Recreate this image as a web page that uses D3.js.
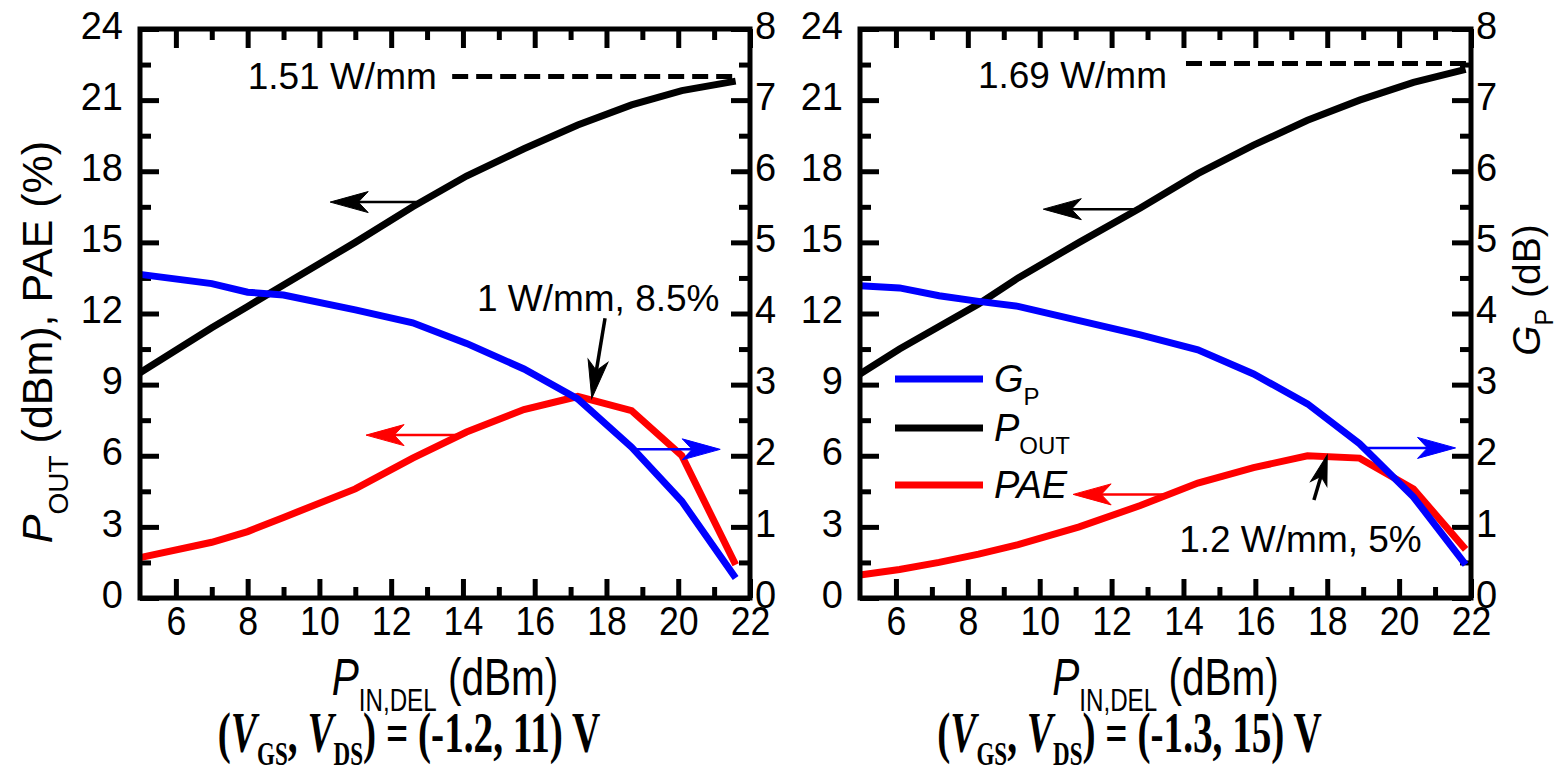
<!DOCTYPE html>
<html>
<head>
<meta charset="utf-8">
<script src="https://cdn.jsdelivr.net/npm/d3@7"></script>
<style>
  body { margin: 0; background: #fff; }
  svg { display: block; }
</style>
</head>
<body>
<svg id="chart" width="1564" height="768" font-family='"Liberation Sans", Arial, Helvetica, sans-serif'></svg>
<script>
// ---- measured data: bias point (-1.2, 11) V ----
const pinA  = [5, 7, 8, 9, 11, 12.6, 14.1, 15.7, 17.2, 18.7, 20.1, 21.6];
const poutA = [9.5, 11.4, 12.3, 13.2, 15.0, 16.5, 17.8, 18.95, 19.95, 20.8, 21.4, 21.8];
const paeA  = [1.7, 2.35, 2.8, 3.4, 4.6, 5.9, 7.0, 7.95, 8.5, 7.9, 6.0, 1.4];
const gpA   = [4.55, 4.42, 4.3, 4.26, 4.05, 3.87, 3.58, 3.22, 2.8, 2.12, 1.36, 0.28];

// ---- measured data: bias point (-1.3, 15) V ----
const pinB  = [5, 6.1, 7.2, 8.3, 9.4, 11.1, 12.8, 14.4, 15.95, 17.45, 18.9, 20.4, 21.85];
const poutB = [9.45, 10.5, 11.45, 12.4, 13.5, 15.0, 16.45, 17.9, 19.1, 20.15, 21.0, 21.75, 22.3];
const paeB  = [0.97, 1.2, 1.5, 1.85, 2.25, 3.0, 3.9, 4.85, 5.5, 6.0, 5.9, 4.6, 2.05];
const gpB   = [4.39, 4.36, 4.25, 4.17, 4.1, 3.9, 3.7, 3.49, 3.15, 2.73, 2.17, 1.42, 0.47];

// ---- axes ----
const xDomain     = [5, 22];
const xTicks      = [6, 8, 10, 12, 14, 16, 18, 20, 22];
const xMinor      = [7, 9, 11, 13, 15, 17, 19, 21];
const yLeftTicks  = [0, 3, 6, 9, 12, 15, 18, 21, 24];
const yLeftMinor  = [1.5, 4.5, 7.5, 10.5, 13.5, 16.5, 19.5, 22.5];
const yRightTicks = [0, 1, 2, 3, 4, 5, 6, 7, 8];
const yRightMinor = [0.5, 1.5, 2.5, 3.5, 4.5, 5.5, 6.5, 7.5];

// ---- annotations (data units; axis 'L' = left, 'R' = right) ----
// arrows: [xFrom, yFrom, xTo, yTo, axis, colour, kind]
const arrowsA = [
  [12.7, 16.7, 10.3, 16.7, 'L', '#000', 'axis'],
  [13.83, 6.87, 11.3, 6.87, 'L', '#ff0000', 'axis'],
  [18.75, 2.09, 21.17, 2.09, 'R', '#0000ff', 'axis'],
  [17.96, 11.8, 17.59, 8.42, 'L', '#000', 'call']
];
const arrowsB = [
  [12.6, 16.4, 10.1, 16.4, 'L', '#000', 'axis'],
  [13.65, 4.37, 10.93, 4.37, 'L', '#ff0000', 'axis'],
  [19.02, 2.11, 21.57, 2.11, 'R', '#0000ff', 'axis'],
  [17.63, 4.13, 18.0, 6.03, 'L', '#000', 'call']
];
// saturated-power reference lines: [xFrom, xTo, y]
const satA = [13.7, 21.65, 22.0];
const satB = [14.07, 21.86, 22.55];
// notes: [text, x, y(baseline)]
const notesA = [['1.51 W/mm', 8.0, 21.47], ['1 W/mm, 8.5%', 14.39, 12.12]];
const notesB = [['1.69 W/mm', 8.28, 21.5], ['1.2 W/mm, 5%', 13.88, 1.95]];
const biasA = ['-1.2', '11'];
const biasB = ['-1.3', '15'];

const legendItems = [
  { key: 'gp',   main: 'G',   sub: 'P',   colour: '#0000ff' },
  { key: 'pout', main: 'P',   sub: 'OUT', colour: '#000' },
  { key: 'pae',  main: 'PAE', sub: '',    colour: '#ff0000' }
];

// ---- layout ----
const W = 1564, H = 768;
const TOP = 29, BOTTOM = 598;
const SANS = '"Liberation Sans", Arial, Helvetica, sans-serif';
const SERIF = '"Liberation Serif", "Times New Roman", Times, serif';
const panels = [
  { left: 140, right: 750, pin: pinA, pout: poutA, pae: paeA, gp: gpA,
    arrows: arrowsA, sat: satA, notes: notesA, bias: biasA, legend: false, titleShift: -36 },
  { left: 860, right: 1471, pin: pinB, pout: poutB, pae: paeB, gp: gpB,
    arrows: arrowsB, sat: satB, notes: notesB, bias: biasB, legend: true, titleShift: -36 }
];

const svg = d3.select('#chart');
svg.append('rect').attr('width', W).attr('height', H).attr('fill', '#fff');

function arrowHead(g, x1, y1, x2, y2, colour, L, Wd) {
  const ang = Math.atan2(y2 - y1, x2 - x1) * 180 / Math.PI;
  g.append('path')
    .attr('d', `M0,0 L${-L},${-Wd / 2} L${-L * 0.74},0 L${-L},${Wd / 2} Z`)
    .attr('transform', `translate(${x2},${y2}) rotate(${ang})`)
    .attr('fill', colour)
    .attr('stroke', colour)
    .attr('stroke-width', 1)
    .attr('stroke-linejoin', 'miter');
}

panels.forEach(p => {
  const g = svg.append('g');
  const x  = d3.scaleLinear().domain(xDomain).range([p.left, p.right]);
  const yL = d3.scaleLinear().domain([0, 24]).range([BOTTOM, TOP]);
  const yR = d3.scaleLinear().domain([0, 8]).range([BOTTOM, TOP]);

  // ticks (all pointing inwards)
  const axisDefs = [
    [d3.axisBottom(x).tickValues(xTicks).tickSize(-19).tickPadding(8).tickFormat(d3.format('d')), `translate(0,${BOTTOM})`, 'bottom'],
    [d3.axisBottom(x).tickValues(xMinor).tickSize(-11).tickFormat(''), `translate(0,${BOTTOM})`, null],
    [d3.axisTop(x).tickValues(xTicks).tickSize(-19).tickFormat(''), `translate(0,${TOP})`, null],
    [d3.axisTop(x).tickValues(xMinor).tickSize(-11).tickFormat(''), `translate(0,${TOP})`, null],
    [d3.axisLeft(yL).tickValues(yLeftTicks).tickSize(-19).tickPadding(17).tickFormat(d3.format('d')), `translate(${p.left},0)`, 'side'],
    [d3.axisLeft(yL).tickValues(yLeftMinor).tickSize(-11).tickFormat(''), `translate(${p.left},0)`, null],
    [d3.axisRight(yR).tickValues(yRightTicks).tickSize(-19).tickPadding(5).tickFormat(d3.format('d')), `translate(${p.right},0)`, 'side'],
    [d3.axisRight(yR).tickValues(yRightMinor).tickSize(-11).tickFormat(''), `translate(${p.right},0)`, null]
  ];
  axisDefs.forEach(([ax, tr, lab]) => {
    const a = g.append('g').attr('transform', tr).call(ax);
    a.select('.domain').remove();
    a.attr('font-family', SANS);
    a.selectAll('.tick line').attr('stroke', '#000').attr('stroke-width', 5);
    a.selectAll('.tick text').attr('font-size', 38).attr('fill', '#000');
    if (lab === 'side') a.selectAll('.tick text').attr('dy', '0.24em');
    if (lab === 'bottom') {
      a.selectAll('.tick text').attr('font-size', 41).attr('transform', 'scale(0.87,1)');
    }
  });

  // curves: output power and PAE on the left axis, gain on the right axis
  const idx = d3.range(p.pin.length);
  const line = (arr, ys) => d3.line().x(i => x(p.pin[i])).y(i => ys(arr[i]))(idx);
  g.append('path').attr('d', line(p.pout, yL)).attr('fill', 'none')
    .attr('stroke', '#000').attr('stroke-width', 7).attr('stroke-linejoin', 'miter');
  g.append('path').attr('d', line(p.pae, yL)).attr('fill', 'none')
    .attr('stroke', '#ff0000').attr('stroke-width', 7).attr('stroke-linejoin', 'miter');
  g.append('path').attr('d', line(p.gp, yR)).attr('fill', 'none')
    .attr('stroke', '#0000ff').attr('stroke-width', 7).attr('stroke-linejoin', 'miter');

  // saturated output power reference
  g.append('line')
    .attr('x1', x(p.sat[0])).attr('x2', x(p.sat[1]))
    .attr('y1', yL(p.sat[2])).attr('y2', yL(p.sat[2]))
    .attr('stroke', '#000').attr('stroke-width', 5).attr('stroke-dasharray', '16,8');

  // arrows
  p.arrows.forEach(([xa, ya, xb, yb, axis, colour, kind]) => {
    const ys = axis === 'L' ? yL : yR;
    const X1 = x(xa), Y1 = ys(ya), X2 = x(xb), Y2 = ys(yb);
    const len = Math.hypot(X2 - X1, Y2 - Y1);
    const L = kind === 'call' ? (len > 60 ? 38 : 30) : 38;
    const Wd = kind === 'call' ? (L > 32 ? 20 : 17) : 21;
    const ex = X2 - (X2 - X1) / len * L * 0.7, ey = Y2 - (Y2 - Y1) / len * L * 0.7;
    g.append('line').attr('x1', X1).attr('y1', Y1).attr('x2', ex).attr('y2', ey)
      .attr('stroke', colour).attr('stroke-width', kind === 'call' ? 3.5 : 2.5);
    arrowHead(g, X1, Y1, X2, Y2, colour, L, Wd);
  });

  // notes
  p.notes.forEach(([t, xv, yv]) => {
    g.append('text').attr('x', x(xv)).attr('y', yL(yv))
      .attr('font-family', SANS).attr('font-size', 37).text(t);
  });

  // frame
  g.append('rect')
    .attr('x', p.left).attr('y', TOP)
    .attr('width', p.right - p.left).attr('height', BOTTOM - TOP)
    .attr('fill', 'none').attr('stroke', '#000').attr('stroke-width', 5);

  // x-axis title
  const cx = (p.left + p.right) / 2;
  const xt = g.append('g').attr('transform', `translate(${cx},695) scale(0.78,1)`)
    .append('text').attr('text-anchor', 'middle')
    .attr('font-family', SANS).attr('font-size', 52);
  xt.append('tspan').attr('font-style', 'italic').text('P');
  xt.append('tspan').attr('font-size', 31).attr('dy', 16).text('IN,DEL');
  xt.append('tspan').attr('dy', -16).text(' (dBm)');

  // bias condition
  const bt = g.append('g').attr('transform', `translate(${cx + p.titleShift},752) scale(0.7,1)`)
    .append('text').attr('text-anchor', 'middle')
    .attr('font-family', SERIF)
    .attr('font-weight', 'bold').attr('font-size', 56);
  bt.append('tspan').text('(');
  bt.append('tspan').attr('font-style', 'italic').text('V');
  bt.append('tspan').attr('font-size', 33).attr('dy', 13).text('GS');
  bt.append('tspan').attr('dy', -13).text(', ');
  bt.append('tspan').attr('font-style', 'italic').text('V');
  bt.append('tspan').attr('font-size', 33).attr('dy', 13).text('DS');
  bt.append('tspan').attr('dy', -13).text(`) = (${p.bias[0]}, ${p.bias[1]}) V`);

  // legend
  if (p.legend) {
    const rows = [379, 428, 485];
    legendItems.forEach((it, i) => {
      g.append('line').attr('x1', 895).attr('x2', 983).attr('y1', rows[i]).attr('y2', rows[i])
        .attr('stroke', it.colour).attr('stroke-width', 7);
      const t = g.append('text').attr('x', 994).attr('y', rows[i] + 13)
        .attr('font-family', SANS).attr('font-size', 38);
      t.append('tspan').attr('font-style', 'italic').text(it.main);
      if (it.sub) t.append('tspan').attr('font-size', 24).attr('dy', 13).text(it.sub);
    });
  }
});

// left axis title
const yt = svg.append('text')
  .attr('transform', 'translate(52,342) rotate(-90)')
  .attr('text-anchor', 'middle').attr('font-family', SANS).attr('font-size', 43);
yt.append('tspan').attr('font-style', 'italic').text('P');
yt.append('tspan').attr('font-size', 28).attr('dy', 16).text('OUT');
yt.append('tspan').attr('dy', -16).text(' (dBm), PAE (%)');

// right axis title
const rt = svg.append('text')
  .attr('transform', 'translate(1540,290) rotate(-90)')
  .attr('text-anchor', 'middle').attr('font-family', SANS).attr('font-size', 39);
rt.append('tspan').attr('font-style', 'italic').text('G');
rt.append('tspan').attr('font-size', 25).attr('dy', 13).text('P');
rt.append('tspan').attr('dy', -13).text(' (dB)');
</script>
</body>
</html>
